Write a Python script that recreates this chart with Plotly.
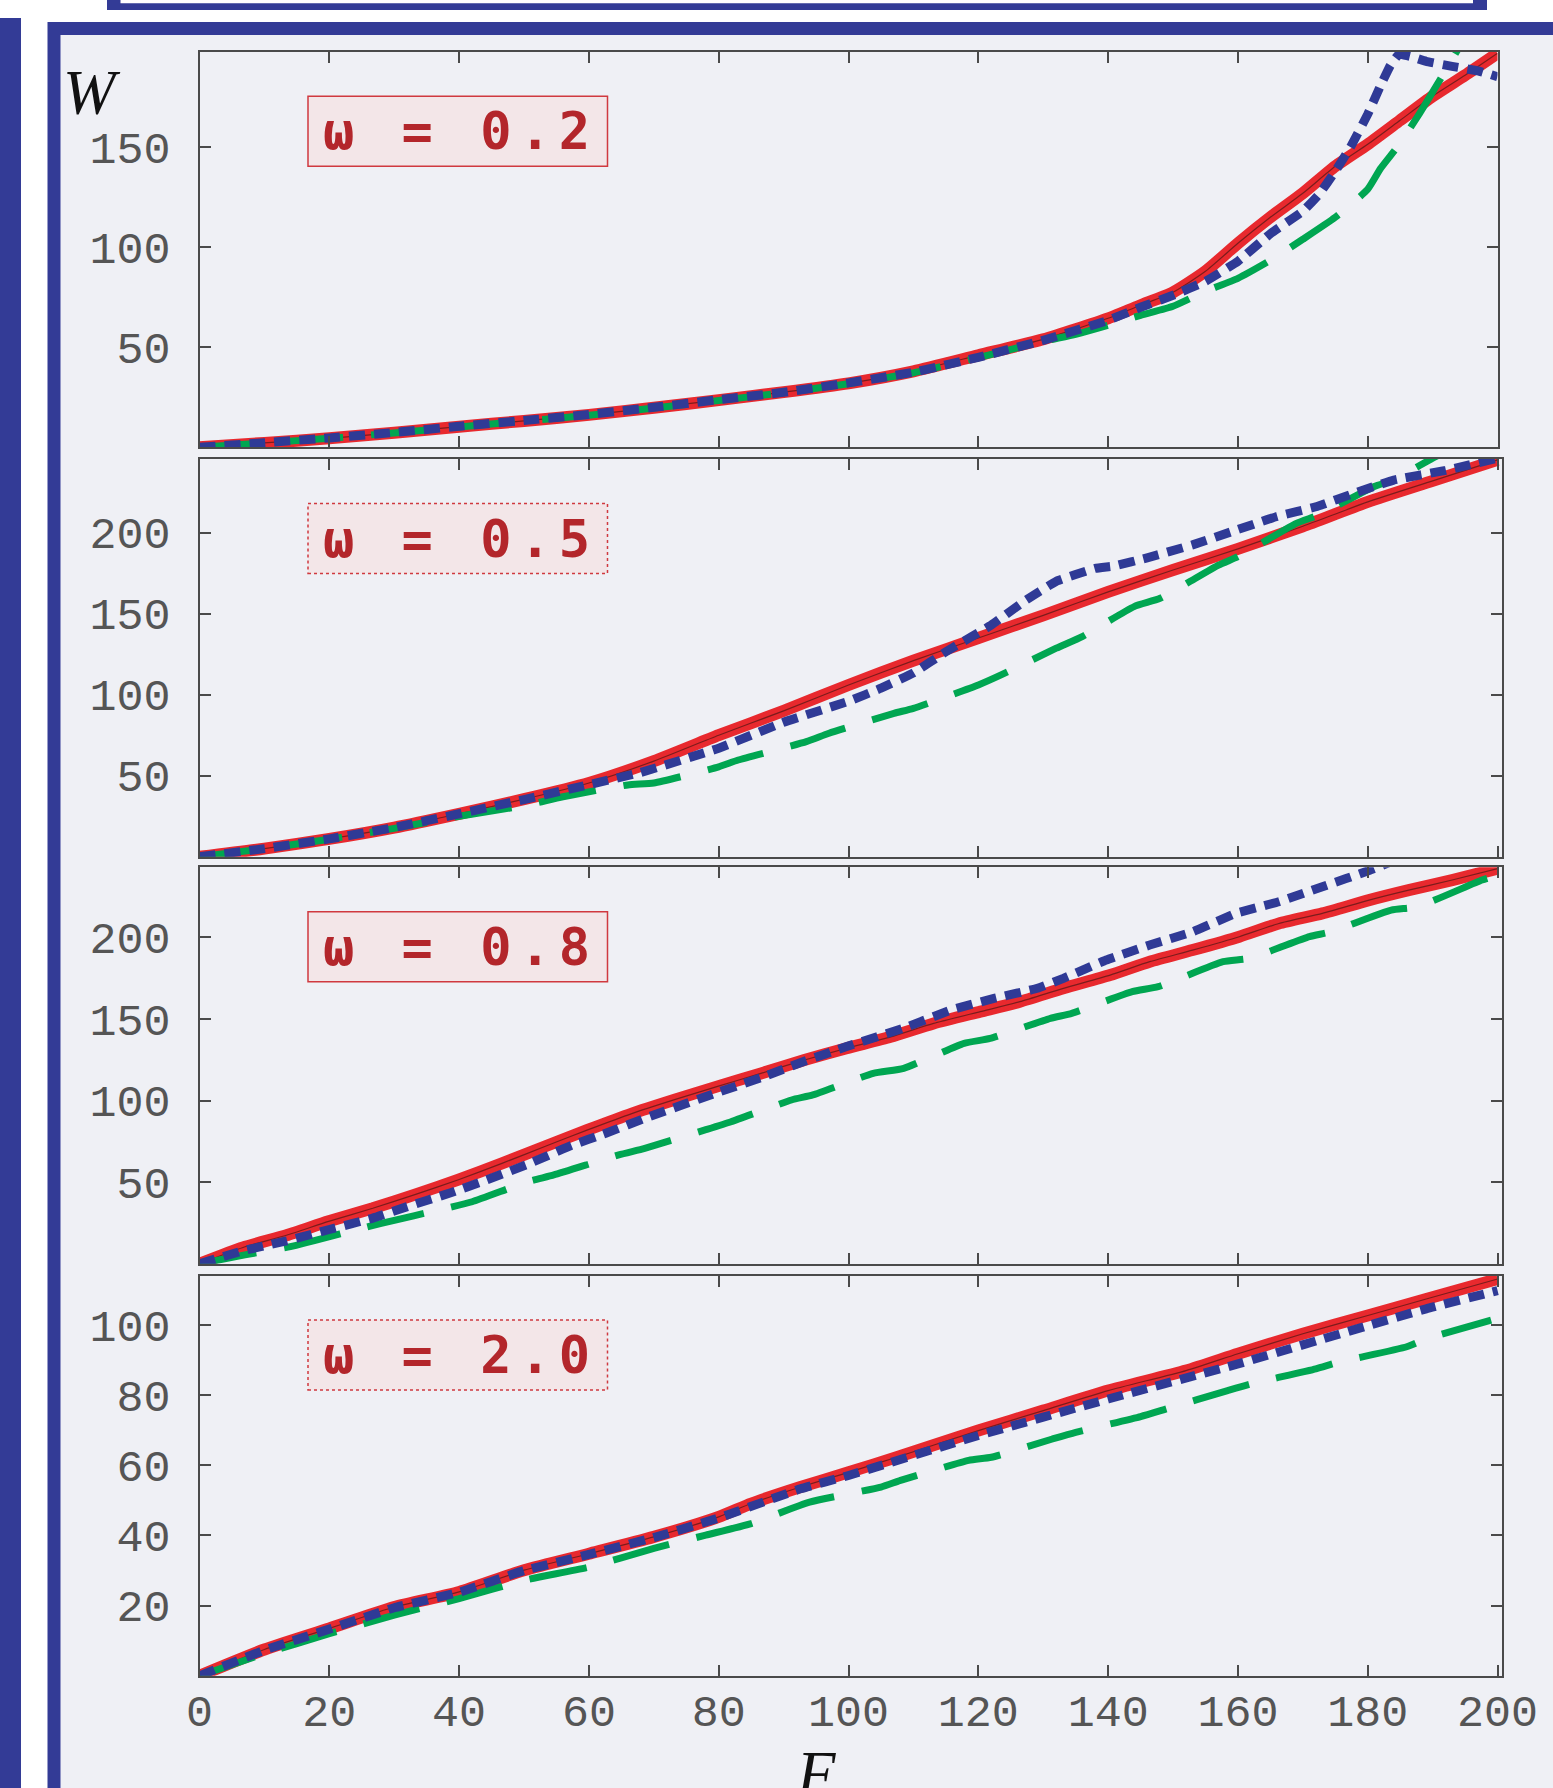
import plotly.graph_objects as go

# ---------------- data ----------------
omega_labels = ["ω = 0.2", "ω = 0.5", "ω = 0.8", "ω = 2.0"]
x_ticks = [0, 20, 40, 60, 80, 100, 120, 140, 160, 180, 200]
y_ticks = [[50, 100, 150], [50, 100, 150, 200], [50, 100, 150, 200], [20, 40, 60, 80, 100]]
y_ranges = [[0, 197.8], [0, 245.5], [0, 242.8], [0, 114.1]]
x_ranges = [[0, 200], [0, 200.6], [0, 200.6], [0, 200.6]]

# panel 1 : omega = 0.2
red1_F = [0, 10, 20, 30, 40, 50, 60, 70, 80, 90, 100, 110, 120, 130, 140, 145, 150, 155, 160, 165, 170, 175, 180, 185, 190, 195, 200]
red1_W = [0, 2.2, 4.5, 7.3, 10.3, 13.2, 16.2, 19.8, 23.6, 27.6, 32, 38, 46, 54, 64.5, 71, 77.5, 88, 102, 115, 127, 140.5, 151.5, 163.5, 175.5, 186, 197]
blue1_F = [0, 10, 20, 30, 40, 50, 60, 70, 80, 90, 100, 110, 120, 130, 140, 145, 150, 155, 160, 165, 170, 172.5, 175, 177.5, 180, 182, 183.5, 184.8, 186.5, 189, 193, 197, 200]
blue1_W = [0, 2.3, 4.7, 7.4, 10.5, 13.4, 16.4, 20, 23.8, 27.5, 32.2, 37.5, 45, 53.5, 63.5, 70, 76, 83, 93, 106.8, 118, 126.5, 138, 151, 166.5, 181, 191, 196.5, 195.5, 193, 190.5, 188.2, 185.3]
green1_F = [0, 10, 20, 30, 40, 50, 60, 70, 80, 90, 100, 110, 120, 130, 135, 140, 145, 150, 155, 160, 165, 170, 175, 180, 182, 185, 188, 191, 194, 197]
green1_W = [0, 2.2, 4.5, 7.2, 10.2, 13.1, 16, 19.6, 23.4, 27.3, 31.8, 37.2, 44.8, 53, 56.5, 61, 66, 70.5, 78, 84.5, 93.5, 104, 115, 129, 139.5, 152, 167, 183, 199.5, 215]

# panel 2 : omega = 0.5
red2_F = [0, 10, 20, 30, 40, 50, 60, 70, 80, 90, 100, 110, 120, 130, 140, 150, 160, 170, 180, 190, 200]
red2_W = [0, 5, 11, 18, 26.5, 35.5, 45.5, 59, 75, 90, 106, 121, 135, 149, 163.5, 177, 190, 204, 219, 232, 245]
blue2_F = [0, 10, 20, 30, 40, 50, 60, 68, 80, 90, 100, 105, 110, 115, 122, 127, 132, 138, 141, 146, 153, 160, 166, 172, 178, 184, 192, 200]
blue2_W = [0, 5, 11, 18, 26.5, 35.3, 44.5, 52, 67, 83, 96, 104, 113.5, 126.5, 143, 157.5, 170, 178, 179.5, 184.5, 192.5, 202, 210, 216, 224.5, 232.5, 238.5, 246]
green2_F = [0, 10, 20, 30, 40, 50, 56, 66, 70, 80, 83, 93.5, 97, 107, 110, 120, 123.5, 132, 136, 144, 148, 157, 160, 169, 172.5, 181, 184, 190, 194]
green2_W = [0, 5, 10.8, 17.5, 25, 31.5, 37, 44.3, 45.5, 55.5, 59.7, 71, 76.2, 88.5, 91.6, 106, 112.2, 128.7, 135.9, 154.4, 159.5, 180, 185.2, 205.8, 211, 228.5, 232.6, 246, 254]

# panel 3 : omega = 0.8
red3_F = [0, 6.7, 13.4, 19.9, 26.7, 33.3, 39.9, 46.6, 53.3, 59.8, 66.6, 73.2, 79.7, 86.5, 93.2, 99.7, 106.5, 113.1, 120.3, 126.4, 133.1, 140.3, 146.4, 153, 160.2, 166.3, 173, 180.2, 186.3, 193, 200]
red3_W = [0, 10, 17.5, 26, 34, 42.5, 51.5, 61.5, 72, 82, 92, 100.5, 108.5, 116.6, 124.8, 132, 139, 147.2, 154.4, 160.5, 168.7, 176.8, 185, 192.1, 200.3, 208.4, 214.6, 222.7, 228.8, 235, 242]
blue3_F = [0, 6.7, 13.4, 20, 26.7, 32, 38.7, 44, 50.6, 57.3, 62.6, 69.2, 79.9, 86.5, 93.2, 99.7, 109.1, 115.8, 122.4, 129.1, 133.1, 139.7, 146.4, 153, 159.7, 166.3, 173, 180.3, 186]
blue3_W = [0, 8, 14, 21, 28, 35, 43.5, 51, 61, 72.5, 80, 90, 105, 114, 124, 133, 145.2, 155.4, 162.5, 168.7, 174.8, 186, 195.2, 203.3, 214.6, 221.7, 230.9, 241, 250]
green3_F = [0, 7, 14, 24, 28, 38, 42, 50.6, 54.6, 64.6, 68.6, 77.9, 81.9, 91.2, 94.5, 103.8, 108.5, 117.8, 121.8, 131.1, 134.4, 143.7, 147.7, 157.7, 161.7, 171, 174.3, 183.6, 187.6, 197.6, 200]
green3_W = [0, 5.5, 10.5, 20.8, 24.8, 34, 38, 50.3, 54.4, 66.7, 70.7, 82, 87, 100.3, 103.4, 116.6, 119.7, 135, 138, 150.3, 153.4, 166.6, 169.7, 185, 187, 200.3, 203.3, 216.6, 218.6, 235, 238]

# panel 4 : omega = 2.0
red4_F = [0, 10, 20, 30, 40, 50, 60, 70, 80, 85, 92.6, 100, 107.4, 120, 130, 140, 152, 160, 170, 180, 189, 200]
red4_W = [0, 7.5, 13.5, 19.6, 23.9, 30.1, 34.8, 39.6, 45.3, 49.1, 53.8, 58, 62.3, 69.9, 75.6, 81.3, 87, 91.8, 97.5, 102.7, 107.4, 113.1]
blue4_F = [0, 10, 20, 30, 40, 50, 60, 70, 80, 92.6, 100, 120, 140, 160, 180, 189, 200]
blue4_W = [0, 7.3, 13.3, 19.4, 23.8, 30, 34.6, 39.4, 45, 53.3, 57.1, 68.5, 78.9, 88.9, 99.8, 104.6, 109.8]
green4_F = [0, 10, 20, 30, 40, 50, 60, 70, 78, 85, 94, 105, 108, 118.5, 122, 131.4, 135, 145, 149, 158.4, 162, 172, 175.5, 186, 189, 199]
green4_W = [0, 6.3, 12, 17.3, 22, 27.2, 31, 36.3, 40.1, 43.4, 49.5, 53.8, 55.7, 61.4, 62.3, 67.5, 69.4, 73.9, 76.1, 81.3, 83.2, 87.5, 89.4, 93.8, 96, 101.4]

panels = [
    (red1_F, red1_W, blue1_F, blue1_W, green1_F, green1_W),
    (red2_F, red2_W, blue2_F, blue2_W, green2_F, green2_W),
    (red3_F, red3_W, blue3_F, blue3_W, green3_F, green3_W),
    (red4_F, red4_W, blue4_F, blue4_W, green4_F, green4_W),
]

# ---------------- layout geometry (pixels) ----------------
W_PX, H_PX = 1553, 1788
def px(x):
    return x / W_PX
def py(y):
    return 1 - y / H_PX

x_dom_px = [(199.5, 1497.5), (199.5, 1501.5), (199.5, 1501.5), (199.5, 1501.5)]
y_dom_px = [(51.7, 447.3), (459.0, 856.7), (867.3, 1263.8), (1275.5, 1675.8)]

BLUE_FRAME = "#333b96"
BG = "#eff0f5"
AXC = "#4a4a4a"
RED = "#e8292e"
RED_DARK = "#7c1c1c"
BLUE = "#2f3a96"
GREEN = "#00a651"
LABEL_RED = "#b3262b"

fig = go.Figure()

for i, (rF, rW, bF, bW, gF, gW) in enumerate(panels):
    xa = "x" if i == 0 else f"x{i+1}"
    ya = "y" if i == 0 else f"y{i+1}"
    fig.add_trace(go.Scatter(x=rF, y=rW, xaxis=xa, yaxis=ya, mode="lines",
                             line=dict(color=RED, width=12, shape="spline", smoothing=0.6),
                             showlegend=False, hoverinfo="skip"))
    fig.add_trace(go.Scatter(x=rF, y=rW, xaxis=xa, yaxis=ya, mode="lines",
                             line=dict(color=RED_DARK, width=1.2, shape="spline", smoothing=0.6),
                             showlegend=False, hoverinfo="skip"))
    fig.add_trace(go.Scatter(x=gF, y=gW, xaxis=xa, yaxis=ya, mode="lines",
                             line=dict(color=GREEN, width=7, dash="58px,28px", shape="spline", smoothing=0.5),
                             showlegend=False, hoverinfo="skip"))
    fig.add_trace(go.Scatter(x=bF, y=bW, xaxis=xa, yaxis=ya, mode="lines",
                             line=dict(color=BLUE, width=9, dash="16px,9px", shape="spline", smoothing=0.3),
                             showlegend=False, hoverinfo="skip"))

tickfont = dict(family="Liberation Mono", size=45, color="#555555")
layout = dict(
    width=W_PX, height=H_PX, autosize=False,
    margin=dict(l=0, r=0, t=0, b=0, pad=0, autoexpand=False),
    paper_bgcolor="#ffffff", plot_bgcolor="rgba(0,0,0,0)",
    showlegend=False,
)
for i in range(4):
    xk = "xaxis" if i == 0 else f"xaxis{i+1}"
    yk = "yaxis" if i == 0 else f"yaxis{i+1}"
    xa_anchor = "y" if i == 0 else f"y{i+1}"
    ya_anchor = "x" if i == 0 else f"x{i+1}"
    layout[xk] = dict(
        domain=[px(x_dom_px[i][0]), px(x_dom_px[i][1])], anchor=xa_anchor,
        range=x_ranges[i], tickvals=x_ticks, ticktext=[str(v) for v in x_ticks],
        showticklabels=(i == 3), ticks="inside", ticklen=11, tickwidth=1.5, tickcolor=AXC,
        showline=True, linecolor=AXC, linewidth=2, mirror="ticks", automargin=False,
        showgrid=False, zeroline=False, tickfont=tickfont, ticklabelstandoff=-6,
    )
    layout[yk] = dict(
        domain=[py(y_dom_px[i][1]), py(y_dom_px[i][0])], anchor=ya_anchor,
        range=y_ranges[i], tickvals=y_ticks[i], ticktext=[str(v) for v in y_ticks[i]],
        ticks="inside", ticklen=11, tickwidth=1.5, tickcolor=AXC,
        showline=True, linecolor=AXC, linewidth=2, mirror="ticks", automargin=False,
        showgrid=False, zeroline=False, tickfont=tickfont, ticklabelstandoff=18,
    )
fig.update_layout(**layout)

def rect(x0, y0, x1, y1, fill, line_color=None, line_width=0, dash="solid"):
    return dict(type="rect", xref="paper", yref="paper",
                x0=px(x0), x1=px(x1), y0=py(y1), y1=py(y0),
                fillcolor=fill, layer="below",
                line=dict(color=line_color or fill, width=line_width, dash=dash))

shapes = [
    rect(-20, 18, 21, 1850, BLUE_FRAME),
    rect(47.5, 22, 1650, 1850, BLUE_FRAME),
    rect(60.5, 35, 1650, 1850, BG),
    rect(107, -60, 1487, 10, BLUE_FRAME),
    rect(120.5, -60, 1473, 3.3, "#ffffff"),
]
box_dash = ["solid", "dot", "solid", "dot"]
annotations = []
for i in range(4):
    top = y_dom_px[i][0] + 44.5
    shapes.append(rect(308, top, 607.5, top + 70, "#f3e6e8", "#d0393f", 1.5, box_dash[i]))
    annotations.append(dict(
        xref="paper", yref="paper", x=px(461), y=py(top + 35),
        xanchor="center", yanchor="middle", showarrow=False,
        text='<span style="letter-spacing:8px">' + omega_labels[i] + '</span>',
        font=dict(family="DejaVu Sans Mono", size=52, color=LABEL_RED, weight=700),
    ))

annotations.append(dict(xref="paper", yref="paper", x=px(91.5), y=py(93),
                        xanchor="center", yanchor="middle", showarrow=False,
                        text="W", font=dict(family="Liberation Serif", size=63, color="#111111", style="italic")))
annotations.append(dict(xref="paper", yref="paper", x=px(816), y=py(1774),
                        xanchor="center", yanchor="middle", showarrow=False,
                        text="F", font=dict(family="Liberation Serif", size=63, color="#111111", style="italic")))

fig.update_layout(shapes=shapes, annotations=annotations)

fig.write_html("out.html", config={"displayModeBar": False},
               post_script="document.body.style.margin='0px';")
